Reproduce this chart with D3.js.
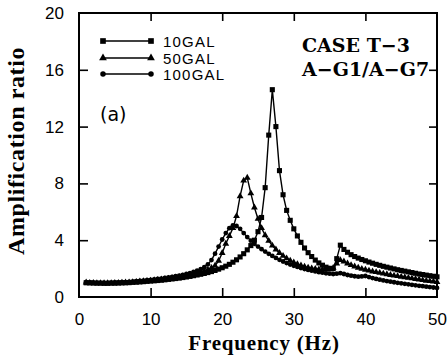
<!DOCTYPE html>
<html><head><meta charset="utf-8">
<script src="https://cdn.jsdelivr.net/npm/d3@7"></script>
<style>body{margin:0;background:#fff}svg{display:block}</style>
</head><body><svg id="c" width="448" height="361"></svg>
<script>
const freq = [1.0,1.5,2.0,2.5,3.0,3.5,4.0,4.5,5.0,5.5,6.0,6.5,7.0,7.5,8.0,8.5,9.0,9.5,10.0,10.5,11.0,11.5,12.0,12.5,13.0,13.5,14.0,14.5,15.0,15.5,16.0,16.5,17.0,17.5,18.0,18.5,19.0,19.5,20.0,20.5,21.0,21.5,22.0,22.5,23.0,23.5,24.0,24.5,25.0,25.5,26.0,26.5,27.0,27.5,28.0,28.5,29.0,29.5,30.0,30.5,31.0,31.5,32.0,32.5,33.0,33.5,34.0,34.5,35.0,35.5,36.0,36.5,37.0,37.5,38.0,38.5,39.0,39.5,40.0,40.5,41.0,41.5,42.0,42.5,43.0,43.5,44.0,44.5,45.0,45.5,46.0,46.5,47.0,47.5,48.0,48.5,49.0,49.5,50.0];
const gal10 = [1.00,0.99,0.98,0.97,0.97,0.96,0.96,0.97,0.97,0.98,0.99,1.00,1.01,1.03,1.04,1.06,1.08,1.10,1.12,1.14,1.16,1.18,1.21,1.24,1.27,1.30,1.33,1.37,1.41,1.45,1.50,1.55,1.60,1.66,1.72,1.79,1.87,1.96,2.06,2.17,2.30,2.45,2.62,2.82,3.05,3.32,3.62,4.00,4.60,5.60,7.70,11.4,14.6,12.0,8.9,7.2,6.1,5.4,4.8,4.3,3.85,3.45,3.12,2.85,2.60,2.40,2.24,2.10,2.02,2.00,2.70,3.65,3.35,3.15,2.98,2.85,2.74,2.64,2.55,2.46,2.38,2.30,2.23,2.16,2.10,2.04,1.98,1.92,1.87,1.82,1.77,1.72,1.67,1.62,1.58,1.54,1.50,1.46,1.42];
const gal50 = [1.02,1.00,0.99,0.98,0.98,0.98,0.98,0.98,0.99,1.00,1.01,1.02,1.03,1.05,1.07,1.09,1.11,1.13,1.15,1.18,1.20,1.23,1.26,1.29,1.33,1.36,1.40,1.45,1.50,1.55,1.61,1.68,1.75,1.83,1.93,2.05,2.20,2.55,3.10,3.75,4.30,4.85,5.70,7.10,8.20,8.40,7.30,6.30,5.50,4.85,4.35,3.95,3.62,3.35,3.10,2.90,2.72,2.56,2.43,2.32,2.22,2.14,2.07,2.02,1.98,1.95,1.93,1.93,1.95,2.05,2.35,2.60,2.50,2.36,2.25,2.15,2.06,1.98,1.92,1.86,1.80,1.75,1.70,1.65,1.60,1.55,1.51,1.47,1.43,1.39,1.35,1.31,1.27,1.23,1.19,1.15,1.12,1.09,1.06];
const gal100 = [1.04,1.02,1.01,1.00,1.00,1.00,1.00,1.01,1.02,1.03,1.04,1.05,1.07,1.09,1.11,1.13,1.16,1.18,1.21,1.24,1.27,1.30,1.34,1.38,1.42,1.46,1.51,1.56,1.62,1.68,1.76,1.85,1.96,2.10,2.30,2.60,3.05,3.55,4.05,4.50,4.85,5.05,5.00,4.80,4.50,4.22,3.97,3.75,3.55,3.37,3.20,3.04,2.89,2.75,2.62,2.50,2.39,2.29,2.20,2.12,2.04,1.97,1.91,1.85,1.80,1.75,1.71,1.67,1.64,1.62,1.64,1.68,1.62,1.55,1.50,1.46,1.43,1.45,1.48,1.40,1.33,1.27,1.22,1.17,1.12,1.08,1.04,1.00,0.96,0.93,0.89,0.86,0.82,0.79,0.76,0.73,0.70,0.67,0.64];
const seriesNames = ["10GAL","50GAL","100GAL"];
const xTicks = [0,10,20,30,40,50];
const yTicks = [0,4,8,12,16,20];
const caseLines = ["CASE T\u22123","A\u2212G1/A\u2212G7"];
const panelLabel = "(a)";
const xTitle = "Frequency (Hz)";
const yTitle = "Amplification ratio";

const svg = d3.select("#c");
svg.append("rect").attr("width",448).attr("height",361).attr("fill","#fff");
const x = d3.scaleLinear().domain([0,50]).range([79,437]);
const y = d3.scaleLinear().domain([0,20]).range([297,13]);

const series = [
  {name:seriesNames[0], values:gal10, sym:d3.symbolSquare, size:26},
  {name:seriesNames[1], values:gal50, sym:d3.symbolTriangle, size:20},
  {name:seriesNames[2], values:gal100, sym:d3.symbolCircle, size:18}
];

const line = d3.line().x(d=>x(d[0])).y(d=>y(d[1]));
const plot = svg.append("g");
series.forEach(s=>{
  const pts = freq.map((f,i)=>[f,s.values[i]]);
  plot.append("path").datum(pts).attr("d",line).attr("fill","none").attr("stroke","#000").attr("stroke-width",1.4);
  plot.selectAll(null).data(pts).enter().append("path")
    .attr("transform",d=>`translate(${x(d[0])},${y(d[1])})`)
    .attr("d",d3.symbol().type(s.sym).size(s.size)).attr("fill","#000");
});

// axes
const fontTick = "'Liberation Sans', Arial, sans-serif";
const ax = svg.append("g").attr("transform","translate(0,297)")
  .call(d3.axisBottom(x).tickValues(xTicks).tickSizeInner(-9).tickSizeOuter(0).tickPadding(16).tickFormat(d3.format("d")));
const ay = svg.append("g").attr("transform","translate(79,0)")
  .call(d3.axisLeft(y).tickValues(yTicks).tickSizeInner(-9).tickSizeOuter(0).tickPadding(15).tickFormat(d3.format("d")));
const axT = svg.append("g").attr("transform","translate(0,13)")
  .call(d3.axisTop(x).tickValues(xTicks.slice(1,-1)).tickSizeInner(-8).tickSizeOuter(0).tickFormat(""));
const ayR = svg.append("g").attr("transform","translate(437,0)")
  .call(d3.axisRight(y).tickValues(yTicks.slice(1,-1)).tickSizeInner(-8).tickSizeOuter(0).tickFormat(""));
[ax,ay,axT,ayR].forEach(g=>{
  g.select(".domain").remove();
  g.selectAll(".tick line").attr("stroke","#000").attr("stroke-width",1.6);
  g.selectAll(".tick text").attr("font-family",fontTick).attr("font-size",17).attr("fill","#000");
});
ax.selectAll(".tick line").filter(d=>d===0||d===50).remove();
ay.selectAll(".tick line").filter(d=>d===0||d===20).remove();

svg.append("rect").attr("x",x(0)).attr("y",y(20)).attr("width",x(50)-x(0)).attr("height",y(0)-y(20))
  .attr("fill","none").attr("stroke","#000").attr("stroke-width",2);

// titles
svg.append("text").attr("x",264).attr("y",350).attr("text-anchor","middle")
  .attr("font-family","'Liberation Serif', 'Times New Roman', serif").attr("font-weight","bold").attr("font-size",21)
  .attr("letter-spacing",0.8)
  .text(xTitle);
svg.append("text").attr("transform","translate(24,151) rotate(-90)").attr("text-anchor","middle")
  .attr("font-family","'Liberation Serif', 'Times New Roman', serif").attr("font-weight","bold").attr("font-size",24)
  .attr("letter-spacing",0.6)
  .text(yTitle);

// legend
const legY = [41,58,74];
series.forEach((s,i)=>{
  svg.append("line").attr("x1",103).attr("x2",151).attr("y1",legY[i]).attr("y2",legY[i]).attr("stroke","#000").attr("stroke-width",1.6);
  [103,151].forEach(px=>svg.append("path").attr("transform",`translate(${px},${legY[i]})`)
    .attr("d",d3.symbol().type(s.sym).size(s.size+6)).attr("fill","#000"));
  svg.append("text").attr("x",163).attr("y",legY[i]+6).attr("font-family",fontTick).attr("font-size",15)
    .attr("letter-spacing",1.2).text(s.name);
});
svg.append("text").attr("x",100).attr("y",121).attr("font-family","'DejaVu Sans', sans-serif").attr("font-size",19).text(panelLabel);

// case label
caseLines.forEach((t,i)=>{
  svg.append("text").attr("x",302).attr("y",52+i*24).attr("font-family","'DejaVu Serif', serif")
    .attr("font-size",19).attr("font-weight","bold").text(t);
});
</script></body></html>
